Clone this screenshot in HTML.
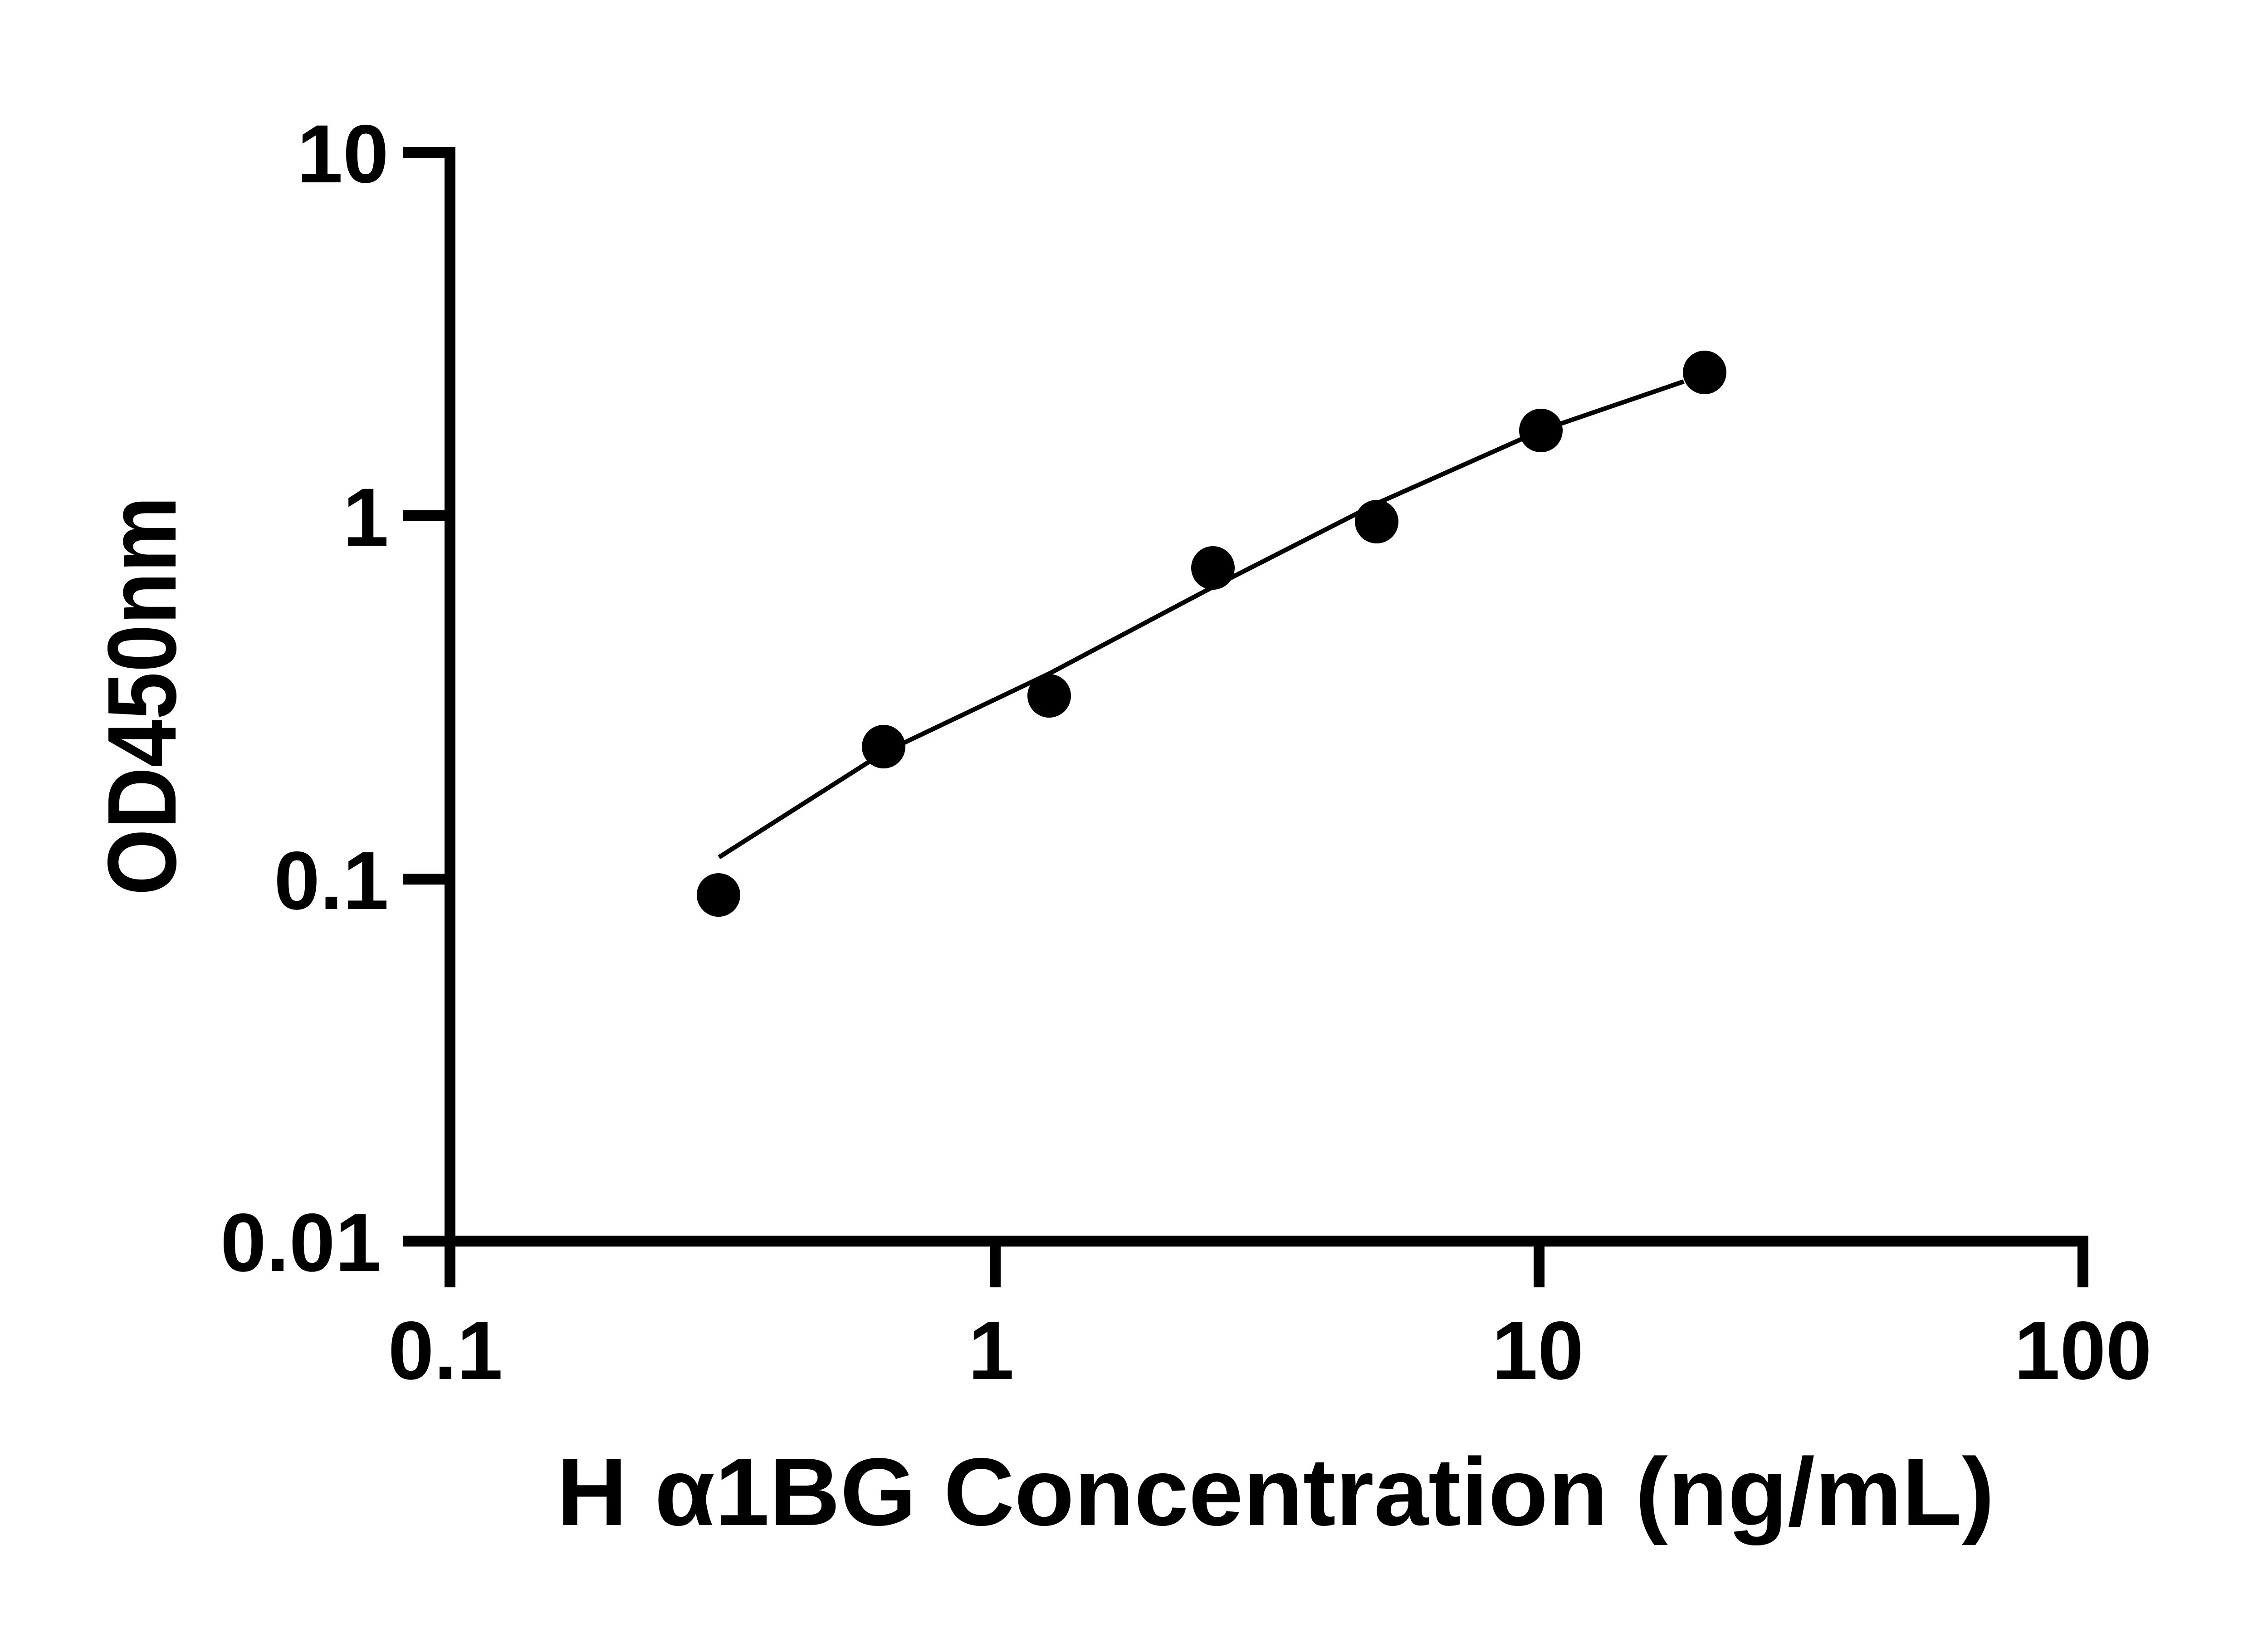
<!DOCTYPE html>
<html><head><meta charset="utf-8"><style>
html,body{margin:0;padding:0;background:#fff;}
svg{display:block;}
text{font-family:"Liberation Sans",sans-serif;font-weight:bold;fill:#000;}
</style></head><body>
<svg width="5142" height="3600" viewBox="0 0 5142 3600" xmlns="http://www.w3.org/2000/svg">
<g stroke="#000" stroke-width="24" fill="none" stroke-linecap="butt">
<line x1="992" y1="324" x2="992" y2="2748"/>
<line x1="980" y1="2736" x2="4604" y2="2736"/>
<line x1="888" y1="336" x2="1004" y2="336"/>
<line x1="888" y1="1137" x2="992" y2="1137"/>
<line x1="888" y1="1938" x2="992" y2="1938"/>
<line x1="888" y1="2736" x2="992" y2="2736"/>
<line x1="992" y1="2736" x2="992" y2="2838"/>
<line x1="2194" y1="2736" x2="2194" y2="2838"/>
<line x1="3393" y1="2736" x2="3393" y2="2838"/>
<line x1="4592" y1="2724" x2="4592" y2="2838"/>
</g>
<g font-size="182" text-anchor="end">
<text x="857" y="402">10</text>
<text x="857" y="1203">1</text>
<text x="857" y="2004">0.1</text>
<text x="840" y="2802">0.01</text>
</g>
<g font-size="182" text-anchor="middle">
<text x="982" y="3040">0.1</text>
<text x="2185" y="3040">1</text>
<text x="3390" y="3040">10</text>
<text x="4592" y="3040">100</text>
</g>
<text x="2812" y="3362" font-size="212" text-anchor="middle" textLength="3170" lengthAdjust="spacingAndGlyphs">H α1BG Concentration (ng/mL)</text>
<text transform="translate(387,1534) rotate(-90)" font-size="215" text-anchor="middle" textLength="880" lengthAdjust="spacingAndGlyphs">OD450nm</text>
<polyline fill="none" stroke="#000" stroke-width="10" points="1585,1890 1948,1659 2313,1485 2674,1294 3035,1110 3397,949 3712,841"/>
<g fill="#000">
<circle cx="1584" cy="1973" r="48"/>
<circle cx="1948" cy="1646" r="48"/>
<circle cx="2313" cy="1534" r="48"/>
<circle cx="2674" cy="1252" r="48"/>
<circle cx="3035" cy="1150" r="48"/>
<circle cx="3397" cy="949" r="48"/>
<circle cx="3758" cy="821" r="48"/>
</g>
</svg>
</body></html>
